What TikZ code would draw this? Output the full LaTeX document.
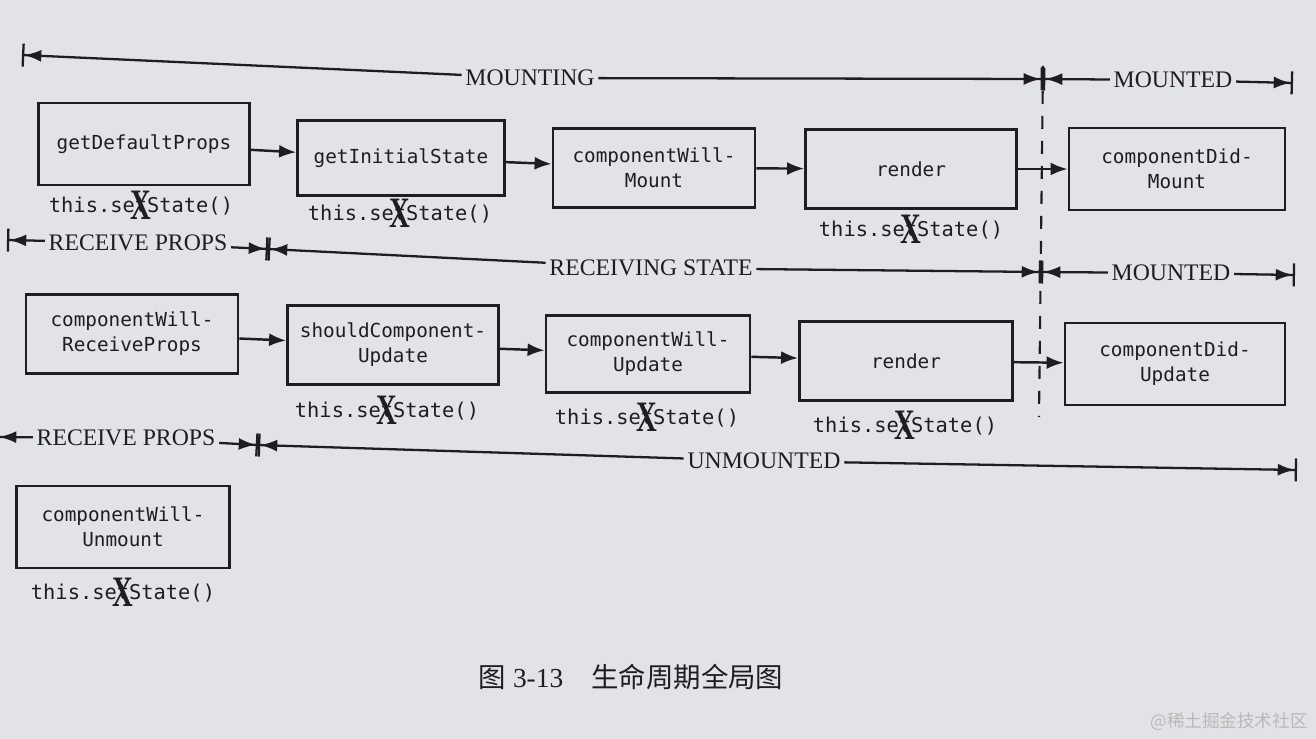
\documentclass[tikz,border=0pt]{standalone}
\usepackage{fontspec}
\setmainfont{Liberation Serif}
\newfontfamily\monofont{DejaVu Sans Mono}
\newfontfamily\cjk{Noto Sans CJK SC}
\usetikzlibrary{arrows.meta}
\definecolor{ink}{RGB}{30,30,34}
\definecolor{paper}{RGB}{226,227,231}
\newcommand{\nixt}{\makebox[0pt][l]{\makebox[0.6em]{\raisebox{-4pt}{\scalebox{0.86}[1.3]{\fontsize{19}{19}\selectfont\rmfamily\bfseries X}}}}t}
\newcommand{\noset}{this.se\nixt State()}
\tikzset{
  stage/.style={rectangle, draw=ink, line width=1.6pt, align=center, text=ink, inner sep=0pt,
                font=\monofont\fontsize{11}{14.2}\selectfont, minimum width=42.2mm, minimum height=15.8mm},
  nost/.style={text=ink, inner sep=0pt, font=\monofont\fontsize{11.6}{14}\selectfont},
  phase/.style={text=ink, inner xsep=2pt, inner ysep=0pt, font=\fontsize{13.5}{14}\selectfont},
  flow/.style={-{Latex[length=3.4mm,width=2.6mm]}, line width=1.4pt, draw=ink},
  spanL/.style={{Bar[width=4.6mm]Latex[length=3.4mm,width=2.4mm]}-, line width=1.3pt, draw=ink},
  spanR/.style={-{Latex[length=3.4mm,width=2.4mm]Bar[width=4.6mm]}, line width=1.3pt, draw=ink},
}
\begin{document}
\begin{tikzpicture}[x=0.2mm, y=-0.2mm]
  \useasboundingbox (0,0) rectangle (1316,739);
  \clip (0,0) rectangle (1316,739);
  \fill[paper] (0,0) rectangle (1316,739);

  % mounting
  \node[stage, minimum height=16.4mm] (gdp) at (144,144) {getDefaultProps};
  \node[stage, minimum width=41.4mm, minimum height=15mm] (gis) at (401,158) {getInitialState};
  \node[stage, minimum width=40.4mm] (cwm) at (654,168) {componentWill-\\Mount};
  \node[stage] (rnd) at (911,169) {render};
  \node[stage, minimum width=43.2mm, minimum height=16.4mm] (cdm) at (1177,169) {componentDid-\\Mount};
  \draw[flow] (gdp) -- (gis); \draw[flow] (gis) -- (cwm);
  \draw[flow] (cwm) -- (rnd); \draw[flow] (rnd) -- (cdm);
  \node[nost] (s1) at (141,205) {\noset};
  \node[nost] (s2) at (400,213) {\noset};
  \node[nost] (s3) at (911,229) {\noset};

  % updating
  \node[stage, minimum width=42.4mm] (cwrp) at (132,334) {componentWill-\\ReceiveProps};
  \node[stage] (scu) at (393,345) {shouldComponent-\\Update};
  \node[stage, minimum width=40.8mm, minimum height=15.4mm] (cwu) at (648,354) {componentWill-\\Update};
  \node[stage, minimum width=42.6mm] (rnd2) at (906,361) {render};
  \node[stage, minimum width=44mm, minimum height=16.4mm] (cdu) at (1175,364) {componentDid-\\Update};
  \draw[flow] (cwrp) -- (scu); \draw[flow] (scu) -- (cwu);
  \draw[flow] (cwu) -- (rnd2); \draw[flow] (rnd2) -- (cdu);
  \node[nost] (s4) at (387,410) {\noset};
  \node[nost] (s5) at (647,417) {\noset};
  \node[nost] (s6) at (905,425) {\noset};

  % unmounting
  \node[stage, minimum width=42.6mm, minimum height=16.4mm] (cwun) at (123,527) {componentWill-\\Unmount};
  \node[nost] (s7) at (123,592) {\noset};

  % phase bars
  \coordinate (m0) at (22,55); \coordinate (m1) at (1043,79); \coordinate (m2) at (1293,83);
  \node[phase] (mnt) at (530,78) {MOUNTING};
  \node[phase] (mtd) at (1173,80) {MOUNTED};
  \draw[spanL] (m0) -- (mnt); \draw[spanR] (mnt) -- (m1);
  \draw[spanL] (m1) -- (mtd); \draw[spanR] (mtd) -- (m2);

  \coordinate (r0) at (7,240); \coordinate (r1) at (268,249);
  \coordinate (r2) at (1041,272); \coordinate (r3) at (1295,275);
  \node[phase] (rp1) at (138,243) {RECEIVE PROPS};
  \node[phase] (rs) at (651,268) {RECEIVING STATE};
  \node[phase] (mtd2) at (1171,273) {MOUNTED};
  \draw[spanL] (r0) -- (rp1); \draw[spanR] (rp1) -- (r1);
  \draw[spanL] (r1) -- (rs); \draw[spanR] (rs) -- (r2);
  \draw[spanL] (r2) -- (mtd2); \draw[spanR] (mtd2) -- (r3);

  \coordinate (u0) at (-3,437); \coordinate (u1) at (258,445); \coordinate (u2) at (1297,470);
  \node[phase] (rp2) at (126,438) {RECEIVE PROPS};
  \node[phase] (um) at (764,461) {UNMOUNTED};
  \draw[spanL] (u0) -- (rp2); \draw[spanR] (rp2) -- (u1);
  \draw[spanL] (u1) -- (um); \draw[spanR] (um) -- (u2);

  \coordinate (d0) at (1043,66); \coordinate (d1) at (1039,417);
  \draw[ink, line width=1.2pt, dash pattern=on 2.6mm off 2.4mm] (d0) -- (d1);

  \node[text=ink, font=\fontsize{15.6}{18}\selectfont] (cap) at (631,677)
    {{\cjk 图}~3-13\hspace{16pt}{\cjk 生命周期全局图}};
  \node[text=gray!55, font=\cjk\fontsize{10}{12}\selectfont] (wm) at (1229,722) {@稀土掘金技术社区};
\end{tikzpicture}
\end{document}
